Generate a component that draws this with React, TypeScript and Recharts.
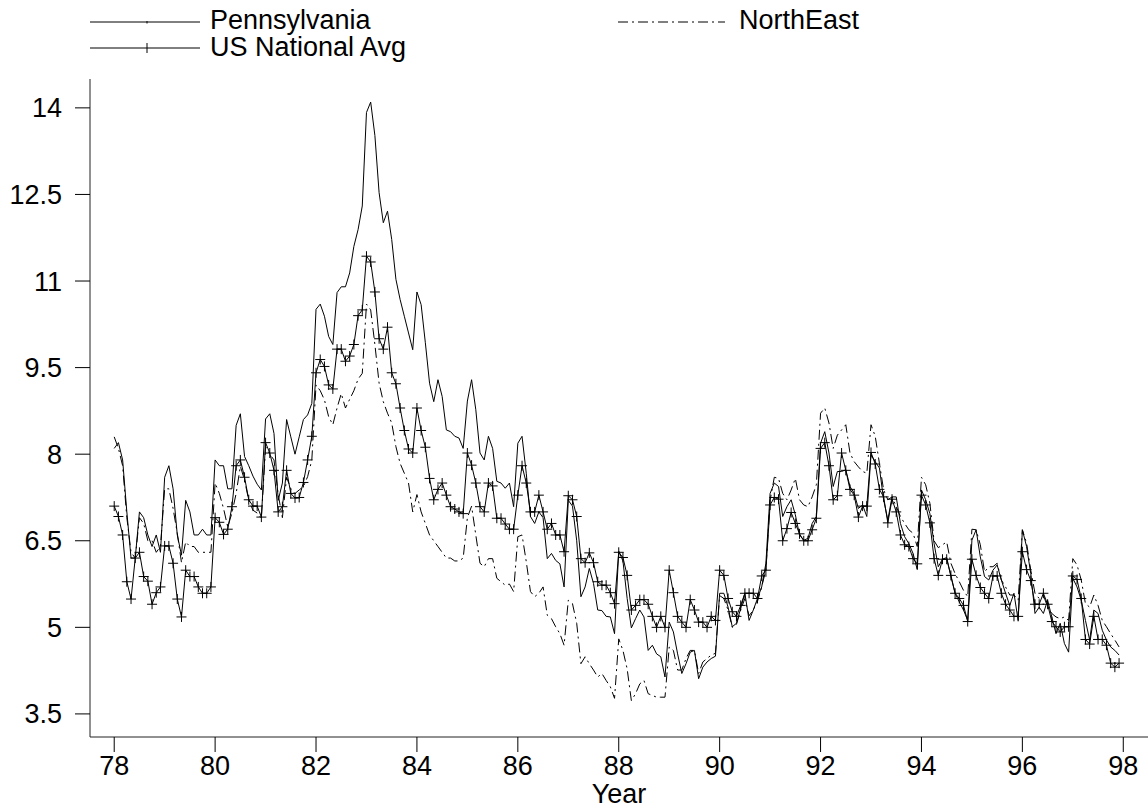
import React from 'react';
import { LineChart, Line, XAxis, YAxis } from 'recharts';

const startYear = 78;
const monthsPerYear = 12;

const xTicks = [78, 80, 82, 84, 86, 88, 90, 92, 94, 96, 98];
const yTicks = [3.5, 5, 6.5, 8, 9.5, 11, 12.5, 14];

const seriesNames = ['Pennsylvania', 'NorthEast', 'US National Avg'];

const pennsylvania = [
  8.1, 8.2, 7.9, 7.0, 6.2, 6.2, 7.0, 6.9, 6.6, 6.4, 6.6, 6.3,
  7.6, 7.8, 7.4, 6.6, 6.25, 7.2, 7.0, 6.6, 6.6, 6.7, 6.6, 6.6,
  7.9, 7.8, 7.8, 7.4, 7.4, 8.5, 8.7, 7.96, 7.8, 7.62, 7.48, 7.38,
  8.61, 8.7, 8.36, 7.2, 7.5, 8.6, 8.3, 8.0, 8.3, 8.6, 8.68, 8.88,
  10.51, 10.6, 10.39, 10.04, 9.9, 10.8, 10.9, 10.9, 11.14, 11.6, 11.89, 12.3,
  13.92, 14.1, 13.52, 12.53, 12.01, 12.21, 11.72, 11.03, 10.68, 10.39, 10.1, 9.81,
  10.81, 10.59, 9.93, 9.23, 8.91, 9.29, 9.0, 8.42, 8.39, 8.31, 8.28, 8.1,
  8.92, 9.29, 8.77, 8.02, 7.9, 8.31, 8.1, 7.53, 7.5, 7.41, 7.5, 7.09,
  8.19, 8.31, 7.67, 6.92, 6.8, 7.0, 6.9, 6.19, 6.28, 6.16, 6.1, 5.7,
  7.2, 7.1, 6.5, 5.53, 5.7, 6.02, 5.76, 5.3, 5.29, 5.19, 5.18, 4.89,
  6.32, 6.15, 5.5, 4.99, 5.15, 5.3, 5.18, 4.6, 4.69, 4.54, 4.49, 4.14,
  5.09, 4.92, 4.54, 4.2, 4.37, 4.57, 4.6, 4.11, 4.31, 4.4, 4.46, 4.5,
  5.59, 5.59, 5.35, 5.01, 5.07, 5.33, 5.59, 5.12, 5.3, 5.5, 5.7, 6.11,
  7.32, 7.5, 7.44, 6.92, 7.09, 7.21, 6.95, 6.6, 6.51, 6.54, 6.8, 6.92,
  8.19, 8.39, 8.02, 7.44, 7.7, 7.7, 7.73, 7.44, 7.32, 7.06, 7.12, 6.92,
  7.99, 7.87, 7.76, 7.21, 6.86, 7.26, 7.26, 6.8, 6.57, 6.45, 6.28, 6.0,
  7.38, 7.21, 6.97, 6.45, 6.05, 6.18, 6.21, 5.88, 5.59, 5.44, 5.3, 5.12,
  6.51, 6.69, 6.22, 5.88, 5.82, 5.99, 6.08, 5.82, 5.59, 5.38, 5.59, 5.12,
  6.69, 6.4, 5.93, 5.24, 5.35, 5.24, 5.47, 5.18, 4.89, 5.07, 4.72, 4.57,
  5.85, 5.7, 5.47, 5.12, 4.78, 5.3, 5.24, 4.95, 4.78, 4.66, 4.6, 4.52,
];

const northEast = [
  8.3, 8.1, 7.8, 6.9, 6.3, 6.2, 6.9, 6.8, 6.5, 6.5, 6.3, 6.4,
  7.4, 7.4, 7.06, 6.63, 6.12, 6.48, 6.4, 6.4, 6.3, 6.3, 6.3, 6.3,
  7.5, 7.32, 7.06, 6.74, 6.98, 7.32, 7.79, 7.55, 7.2, 7.03, 6.98, 6.89,
  8.13, 8.0, 7.9, 7.3, 6.9, 7.6, 7.4, 7.32, 7.38, 7.44, 7.61, 7.9,
  9.2, 9.1, 8.94, 8.65, 8.51, 8.8, 9.05, 8.8, 8.95, 9.1, 9.3, 9.4,
  10.6, 10.5, 9.9, 9.23, 8.91, 8.71, 8.54, 8.13, 7.84, 7.67, 7.5, 7.0,
  7.3, 7.0, 6.8, 6.6, 6.5, 6.4, 6.3, 6.2, 6.2, 6.15, 6.15, 6.2,
  6.9, 7.1, 6.6, 6.11, 6.05, 6.19, 6.19, 5.85, 5.79, 5.73, 5.75, 5.62,
  6.57, 6.6, 6.14, 5.62, 5.53, 5.59, 5.7, 5.21, 5.15, 5.01, 4.89, 4.69,
  5.47, 5.41, 5.07, 4.37, 4.49, 4.37, 4.26, 4.14, 4.2, 4.08, 3.97, 3.77,
  4.8, 4.6, 4.28, 3.73, 3.85, 4.02, 4.08, 3.85, 3.82, 3.79, 3.79, 3.79,
  4.66, 4.6, 4.26, 4.26, 4.46, 4.6, 4.6, 4.2, 4.4, 4.46, 4.52, 4.55,
  5.55, 5.5, 5.3, 5.0, 5.05, 5.3, 5.5, 5.2, 5.3, 5.45, 5.7, 6.0,
  7.2, 7.6, 7.58, 7.32, 7.21, 7.38, 7.58, 7.21, 7.12, 7.09, 7.26, 7.47,
  8.71, 8.8, 8.54, 8.1, 8.33, 8.42, 8.51, 8.02, 7.87, 7.78, 7.7, 7.67,
  8.51, 8.31, 7.84, 7.38, 7.21, 7.26, 7.09, 6.92, 6.8, 6.69, 6.63, 6.4,
  7.6, 7.47, 7.15, 6.5, 6.38, 6.43, 6.48, 6.11, 5.93, 5.79, 5.64, 5.53,
  6.7, 6.69, 6.43, 5.96, 6.05, 6.05, 6.11, 5.82, 5.7, 5.56, 5.56, 5.47,
  6.69, 6.46, 5.99, 5.59, 5.5, 5.56, 5.35, 5.24, 5.18, 5.15, 5.18, 5.12,
  6.19, 6.08, 5.82, 5.41, 5.35, 5.56, 5.38, 5.12, 5.01, 4.89, 4.78, 4.66,
];

const usNationalAvg = [
  7.1, 6.92, 6.6, 5.79, 5.49, 6.2, 6.3, 5.88, 5.8, 5.4, 5.6, 5.7,
  6.41, 6.41, 6.11, 5.49, 5.18, 5.99, 5.88, 5.88, 5.7, 5.59, 5.59, 5.7,
  6.9, 6.82, 6.61, 6.7, 7.09, 7.8, 7.9, 7.6, 7.21, 7.1, 7.1, 6.91,
  8.2, 8.02, 7.72, 7.0, 7.09, 7.72, 7.32, 7.24, 7.25, 7.51, 7.9, 8.31,
  9.41, 9.64, 9.52, 9.2, 9.13, 9.82, 9.82, 9.61, 9.7, 9.9, 10.4, 10.5,
  11.43, 11.33, 10.81, 10.0, 9.82, 10.2, 9.41, 9.22, 8.8, 8.41, 8.09, 8.02,
  8.8, 8.41, 8.12, 7.58, 7.21, 7.39, 7.5, 7.29, 7.09, 7.05, 7.0, 6.97,
  8.02, 7.81, 7.5, 7.09, 7.0, 7.5, 7.45, 6.89, 6.89, 6.79, 6.7, 6.7,
  7.29, 7.8, 7.5, 7.0, 7.0, 7.29, 7.0, 6.7, 6.8, 6.6, 6.6, 6.31,
  7.28, 7.21, 6.92, 6.19, 6.12, 6.29, 6.12, 5.79, 5.73, 5.73, 5.6, 5.41,
  6.3, 6.21, 5.9, 5.3, 5.38, 5.48, 5.48, 5.4, 5.19, 5.0, 5.19, 5.0,
  5.99, 5.6, 5.19, 5.09, 5.0, 5.48, 5.3, 5.09, 5.09, 5.0, 5.19, 5.12,
  5.99, 5.9, 5.5, 5.27, 5.19, 5.38, 5.59, 5.59, 5.59, 5.5, 5.89, 5.99,
  7.12, 7.25, 7.22, 6.5, 6.71, 6.99, 6.8, 6.62, 6.5, 6.5, 6.69, 6.89,
  8.1, 8.2, 7.8, 7.21, 7.28, 8.02, 7.72, 7.39, 7.29, 6.91, 7.1, 7.1,
  8.03, 7.83, 7.39, 7.26, 6.81, 7.22, 7.0, 6.6, 6.43, 6.4, 6.19, 6.1,
  7.29, 7.12, 6.81, 6.19, 5.9, 6.18, 6.18, 5.9, 5.59, 5.5, 5.38, 5.1,
  6.18, 5.9, 5.69, 5.59, 5.5, 5.89, 5.89, 5.59, 5.4, 5.3, 5.19, 5.19,
  6.31, 6.0, 5.81, 5.4, 5.4, 5.59, 5.4, 5.1, 5.01, 4.92, 5.01, 5.01,
  5.89, 5.83, 5.5, 4.79, 4.71, 5.19, 4.79, 4.79, 4.69, 4.38, 4.31, 4.38,
];

const data = pennsylvania.map((v, i) => ({
  t: startYear + i / monthsPerYear,
  pa: v,
  ne: northEast[i],
  us: usNationalAvg[i],
}));

const FONT = '"Liberation Sans", Arial, Helvetica, sans-serif';
const NE_DASH = '10 4 2 4';

const renderPlus = (props: any) => {
  const { cx, cy, index } = props;
  if (cx == null || cy == null) return <g key={`p${index}`} />;
  return (
    <path
      key={`p${index}`}
      d={`M${cx - 5},${cy}H${cx + 5}M${cx},${cy - 5}V${cy + 5}`}
      stroke="#000"
      strokeWidth={1}
      fill="none"
    />
  );
};

const Legend = () => (
  <svg
    width={1148}
    height={70}
    style={{ position: 'absolute', left: 0, top: 0, pointerEvents: 'none' }}
  >
    <line x1={90} y1={22} x2={200} y2={22} stroke="#000" strokeWidth={1} />
    <line x1={147} y1={21} x2={147} y2={23.5} stroke="#000" strokeWidth={1} />
    <text x={210} y={28.5} fontFamily={FONT} fontSize={27} fill="#000">
      {seriesNames[0]}
    </text>
    <line x1={90} y1={48} x2={200} y2={48} stroke="#000" strokeWidth={1} />
    <path d="M147,43V53" stroke="#000" strokeWidth={1} />
    <text x={210} y={55.5} fontFamily={FONT} fontSize={27} fill="#000">
      {seriesNames[2]}
    </text>
    <line
      x1={618}
      y1={22}
      x2={725}
      y2={22}
      stroke="#000"
      strokeWidth={1}
      strokeDasharray={NE_DASH}
    />
    <text x={739} y={28.5} fontFamily={FONT} fontSize={27} fill="#000">
      {seriesNames[1]}
    </text>
  </svg>
);

export default function App() {
  return (
    <div
      style={{
        position: 'absolute',
        left: 0,
        top: 0,
        width: 1148,
        height: 811,
        background: '#fff',
        fontFamily: FONT,
      }}
    >
      <LineChart
        width={1148}
        height={811}
        data={data}
        margin={{ top: 79, right: 0, bottom: 0, left: 0 }}
      >
        <XAxis
          dataKey="t"
          type="number"
          domain={[77.52, 98.49]}
          ticks={xTicks}
          allowDataOverflow
          height={74}
          tickSize={15}
          tickMargin={4}
          interval={0}
          axisLine={{ stroke: '#222', strokeWidth: 1 }}
          tickLine={{ stroke: '#000', strokeWidth: 1 }}
          tick={{ fill: '#000', fontSize: 27, fontFamily: FONT }}
          label={{
            value: 'Year',
            position: 'insideBottom',
            offset: 8,
            fill: '#000',
            fontSize: 27,
            fontFamily: FONT,
          }}
        />
        <YAxis
          type="number"
          domain={[3.1, 14.5]}
          ticks={yTicks}
          allowDataOverflow
          width={90}
          tickSize={15}
          tickMargin={13}
          interval={0}
          axisLine={{ stroke: '#222', strokeWidth: 1 }}
          tickLine={{ stroke: '#000', strokeWidth: 1 }}
          tick={{ fill: '#000', fontSize: 27, fontFamily: FONT }}
        />
        <Line
          type="linear"
          dataKey="ne"
          name={seriesNames[1]}
          stroke="#000"
          strokeWidth={1}
          strokeDasharray={NE_DASH}
          dot={false}
          activeDot={false}
          isAnimationActive={false}
        />
        <Line
          type="linear"
          dataKey="pa"
          name={seriesNames[0]}
          stroke="#000"
          strokeWidth={1}
          dot={false}
          activeDot={false}
          isAnimationActive={false}
        />
        <Line
          type="linear"
          dataKey="us"
          name={seriesNames[2]}
          stroke="#000"
          strokeWidth={1}
          dot={renderPlus}
          activeDot={false}
          isAnimationActive={false}
        />
      </LineChart>
      <Legend />
    </div>
  );
}
